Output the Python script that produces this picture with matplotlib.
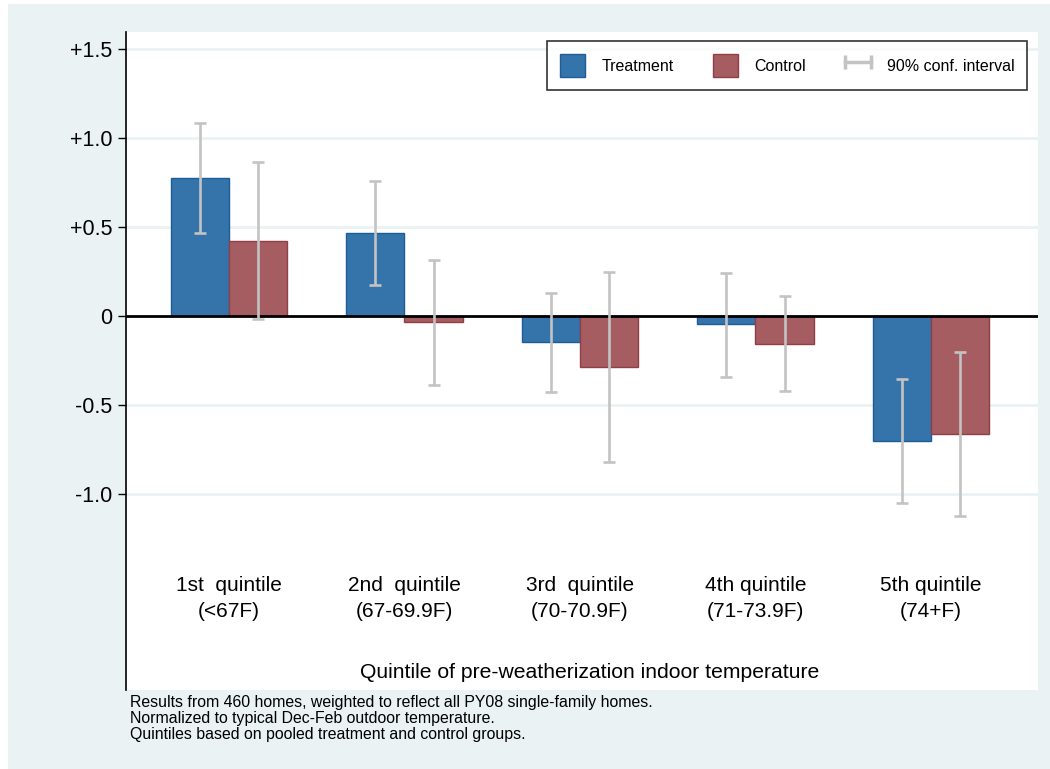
import numpy as np
import matplotlib.pyplot as plt
from matplotlib.patches import Patch, Rectangle
from matplotlib.lines import Line2D
from matplotlib.legend_handler import HandlerLine2D

plt.rcParams['font.family'] = ['Liberation Sans', 'DejaVu Sans']

# data
groups = ['1st  quintile\n(<67F)', '2nd  quintile\n(67-69.9F)', '3rd  quintile\n(70-70.9F)',
          '4th quintile\n(71-73.9F)', '5th quintile\n(74+F)']
treat = [0.775, 0.465, -0.146, -0.045, -0.702]
treat_lo = [0.466, 0.174, -0.427, -0.343, -1.052]
treat_hi = [1.084, 0.758, 0.129, 0.242, -0.354]
ctrl = [0.421, -0.034, -0.287, -0.157, -0.663]
ctrl_lo = [-0.017, -0.388, -0.820, -0.421, -1.124]
ctrl_hi = [0.865, 0.315, 0.247, 0.112, -0.202]
yticks = [1.5, 1.0, 0.5, 0, -0.5, -1.0]
ytick_labels = ['+1.5', '+1.0', '+0.5', '0', '-0.5', '-1.0']
notes = ['Results from 460 homes, weighted to reflect all PY08 single-family homes.',
         'Normalized to typical Dec-Feb outdoor temperature.',
         'Quintiles based on pooled treatment and control groups.']

bg = '#EAF2F3'
blue, blue_edge = '#3474AA', '#1D5C9A'
red, red_edge = '#A65D61', '#923E47'
ci_col = '#C3C3C3'

fig = plt.figure(figsize=(10.5, 7.69), dpi=100, facecolor='white')
# outer stata-like background
fig.patches.append(Rectangle((8 / 1050, 0), 1, 1 - 4 / 769, transform=fig.transFigure,
                             facecolor=bg, edgecolor='none', zorder=-10))

ax = fig.add_axes([126 / 1050, 1 - 690 / 769, 912 / 1050, 658 / 769])
ax.set_facecolor('white')

x = np.arange(1, len(groups) + 1)
w = 0.333
ax.bar(x - w / 2, treat, w, color=blue, edgecolor=blue_edge, linewidth=1, zorder=3)
ax.bar(x + w / 2, ctrl, w, color=red, edgecolor=red_edge, linewidth=1, zorder=3)

t_err = [np.array(treat) - np.array(treat_lo), np.array(treat_hi) - np.array(treat)]
c_err = [np.array(ctrl) - np.array(ctrl_lo), np.array(ctrl_hi) - np.array(ctrl)]
ax.errorbar(x - w / 2, treat, yerr=t_err, fmt='none', ecolor=ci_col, elinewidth=1.9,
            capsize=4.5, capthick=1.9, zorder=5)
ax.errorbar(x + w / 2, ctrl, yerr=c_err, fmt='none', ecolor=ci_col, elinewidth=1.9,
            capsize=4.5, capthick=1.9, zorder=5)

ax.axhline(0, color='black', linewidth=2, zorder=4)

ax.set_xlim(0.413, 5.61)
ax.set_ylim(-2.10, 1.595)
ax.set_yticks(yticks)
ax.set_yticklabels(ytick_labels, fontsize=15.5)
ax.tick_params(axis='y', direction='out', length=6, width=1, pad=4)
ax.set_xticks([])
for yv in yticks:
    if yv != 0:
        ax.axhline(yv, color=bg, linewidth=2, zorder=1)

for s in ['top', 'right', 'bottom']:
    ax.spines[s].set_visible(False)
ax.spines['left'].set_linewidth(1.2)

for xi, lab in zip(x, groups):
    ax.text(xi, -1.585, lab, ha='center', va='center', fontsize=15, linespacing=1.45)

ax.text((590 - 126) / 912, (690 - 673) / 658, 'Quintile of pre-weatherization indoor temperature',
        transform=ax.transAxes, ha='center', va='center', fontsize=15.2)

for i, line in enumerate(notes):
    fig.text(130 / 1050, 1 - (702 + 16 * i) / 769, line, ha='left', va='center', fontsize=11.4)

ci_handle = Line2D([], [], color=ci_col, linewidth=2.5, marker='|', markersize=10, markeredgewidth=2.5)
handles = [Patch(facecolor=blue, edgecolor=blue_edge), Patch(facecolor=red, edgecolor=red_edge), ci_handle]
leg = ax.legend(handles, ['Treatment', 'Control', '90% conf. interval'], ncol=3,
                loc='upper right', bbox_to_anchor=((1027 - 126) / 912, (690 - 41) / 658),
                borderaxespad=0, fontsize=11.5, frameon=True, fancybox=False,
                handlelength=1.6, handleheight=1.9, numpoints=2, columnspacing=2.45,
                handletextpad=1.0, borderpad=0.8,
                handler_map={ci_handle: HandlerLine2D(numpoints=2, marker_pad=0)})
leg.get_frame().set_edgecolor('black')
leg.get_frame().set_linewidth(1.2)
leg.set_zorder(10)

fig.savefig('out.png', dpi=100, facecolor=fig.get_facecolor())
